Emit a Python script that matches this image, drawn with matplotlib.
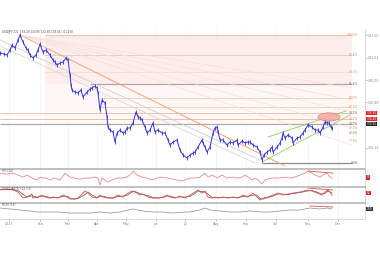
import numpy as np
import matplotlib
matplotlib.use('Agg')
import matplotlib.pyplot as plt
from matplotlib.patches import Ellipse, Rectangle

# price path (x = bar position, close price)
px_x = [0, 4, 7, 10, 12, 15, 18, 20, 23, 26,
        28, 30, 33, 36, 38, 40, 43, 46, 50, 53,
        55, 57, 60, 63, 66, 68, 70, 71, 72, 75,
        78, 81, 83, 87, 90, 92, 95, 97, 98, 100,
        102, 105, 107, 108, 110, 113, 115, 117, 120, 123,
        125, 127, 130, 133, 136, 138, 140, 142, 145, 147,
        150, 153, 155, 158, 162, 165, 168, 170, 173, 177,
        180, 183, 187, 190, 193, 195, 198, 202, 203, 205,
        207, 210, 213, 215, 217, 218, 220, 223, 227, 230,
        233, 237, 238, 242, 245, 248, 250, 253, 257, 260,
        262, 264, 267, 270, 272, 273, 277, 280, 282, 283,
        285, 288, 292, 293, 297, 300, 303, 305, 308, 312,
        315, 318, 320, 323, 325, 327, 329, 331, 332]
closes = [144.30, 144.15, 144.00, 144.75, 145.50, 145.05, 146.25, 147.00, 145.95, 145.05,
          144.75, 144.00, 143.55, 144.00, 144.75, 145.65, 144.45, 144.75, 144.00, 143.25,
          142.95, 142.50, 142.80, 142.95, 143.55, 143.25, 141.00, 139.50, 138.75, 138.45,
          138.30, 138.75, 137.70, 138.45, 138.90, 139.05, 139.35, 139.05, 138.30, 135.75,
          137.25, 136.80, 134.70, 133.20, 132.75, 132.45, 130.95, 132.30, 132.75, 132.30,
          132.45, 133.05, 133.05, 133.80, 135.45, 134.70, 134.55, 134.25, 133.20, 132.30,
          132.75, 133.80, 132.45, 132.75, 132.30, 132.30, 131.25, 130.50, 130.95, 131.25,
          129.75, 129.00, 128.55, 129.00, 129.30, 129.45, 130.20, 131.25, 130.80, 130.20,
          129.45, 130.20, 132.30, 133.05, 133.20, 132.45, 131.25, 131.25, 130.50, 130.95,
          130.80, 131.25, 130.50, 131.10, 130.80, 130.95, 130.95, 130.50, 130.20, 129.45,
          128.25, 129.00, 129.45, 129.75, 130.20, 129.45, 130.20, 130.80, 131.55, 132.30,
          131.55, 132.00, 131.55, 130.80, 131.55, 131.70, 132.30, 132.75, 133.50, 133.20,
          132.75, 132.75, 132.30, 133.20, 133.95, 133.80, 133.80, 133.20, 133.05]

# fibonacci levels
fib_prices = [147.00, 144.00, 141.45, 139.65, 137.55, 136.20, 135.30, 134.40, 133.65, 133.05, 132.30, 131.10, 127.80]
fib_labels = ['100.0%', '85.4%', '70.7%', '61.8%', '50.0%', '47.2%', '38.2%', '34.2%', '30.0%',
              '27.0%', '23.6%', '17.6%', '0.0%']

# indicator panels
rsi_x = [0, 7, 13, 18, 23, 27, 32, 37, 40, 43, 47, 50, 55, 60, 65, 70, 75, 80, 85, 90,
         95, 98, 100, 102, 105, 108, 112, 117, 122, 127, 132, 133, 137, 142, 147, 152, 157, 162, 167, 172,
         177, 182, 187, 190, 195, 200, 205, 208, 212, 217, 222, 227, 232, 237, 242, 245, 248, 252, 255, 258,
         262, 265, 268, 272, 275, 280, 285, 290, 295, 300, 305, 308, 312, 315, 320, 323, 327, 330, 332]
rsi = [69.4, 65.9, 69.4, 62.4, 55.3, 62.4, 51.8, 44.7, 55.3, 51.8,
       51.8, 44.7, 51.8, 44.7, 69.4, 55.3, 51.8, 48.2, 51.8, 51.8,
       55.3, 51.8, 27.1, 51.8, 44.7, 37.6, 44.7, 51.8, 51.8, 55.3,
       69.4, 76.5, 62.4, 55.3, 51.8, 44.7, 51.8, 55.3, 51.8, 48.2,
       44.7, 41.2, 48.2, 51.8, 51.8, 55.3, 69.4, 55.3, 62.4, 51.8,
       62.4, 51.8, 55.3, 51.8, 55.3, 62.4, 55.3, 44.7, 51.8, 44.7,
       30.6, 44.7, 48.2, 51.8, 51.8, 51.8, 55.3, 51.8, 55.3, 62.4,
       69.4, 76.5, 69.4, 62.4, 55.3, 62.4, 69.4, 55.3, 51.8]

stoch_x = [0, 7, 13, 18, 23, 27, 32, 33, 38, 42, 45, 50, 53, 58, 63, 67, 70, 75, 78, 85,
           88, 92, 97, 100, 103, 108, 113, 118, 123, 128, 132, 135, 140, 143, 148, 153, 158, 163, 167, 170,
           175, 180, 185, 190, 195, 198, 202, 205, 208, 212, 215, 218, 223, 228, 233, 238, 243, 248, 253, 257,
           260, 263, 268, 273, 278, 283, 288, 293, 300, 307, 312, 317, 322, 325, 328, 332]
stoch_k = [84.7, 92.4, 84.7, 69.3, 23.1, 30.8, 53.9, 23.1, 30.8, 46.2,
           30.8, 23.1, 30.8, 23.1, 46.2, 30.8, 15.4, 15.4, 23.1, 77.0,
           61.6, 30.8, 23.1, 46.2, 30.8, 23.1, 23.1, 46.2, 30.8, 61.6,
           77.0, 69.3, 46.2, 53.9, 30.8, 23.1, 23.1, 30.8, 46.2, 30.8,
           23.1, 38.5, 23.1, 46.2, 69.3, 84.7, 61.6, 77.0, 30.8, 23.1,
           30.8, 23.1, 30.8, 23.1, 30.8, 23.1, 46.2, 30.8, 61.6, 30.8,
           7.7, 23.1, 30.8, 46.2, 61.6, 46.2, 53.9, 61.6, 69.3, 84.7,
           77.0, 61.6, 46.2, 69.3, 84.7, 46.2]
stoch_d = [88, 88, 88, 80, 52, 30, 40, 38, 28, 38,
           38, 27, 27, 27, 35, 38, 23, 16, 19, 50,
           70, 46, 27, 35, 38, 27, 23, 35, 38, 46,
           70, 73, 58, 50, 42, 27, 23, 27, 38, 38,
           27, 31, 31, 35, 58, 77, 73, 69, 54, 27,
           27, 27, 27, 27, 27, 27, 35, 38, 46, 46,
           19, 15, 27, 38, 54, 54, 50, 58, 65, 77,
           81, 69, 54, 58, 77, 65]

mom_x = [0, 10, 20, 30, 37, 43, 50, 60, 70, 80, 90, 100, 110, 120, 133, 143, 153, 163, 173, 185,
         190, 200, 205, 210, 220, 230, 240, 250, 260, 270, 280, 290, 300, 310, 320, 327, 332]
mom = [100.8, 100.4, 100.0, 99.6, 99.2, 99.2, 99.2, 99.2, 98.8, 98.8,
       98.8, 99.2, 98.8, 99.2, 100.4, 99.6, 99.2, 99.2, 98.8, 99.2,
       99.2, 100.0, 100.8, 100.0, 99.6, 99.2, 99.2, 99.6, 99.2, 99.2,
       99.6, 100.0, 100.0, 100.8, 100.4, 100.8, 100.4]

month_pos = [9, 40, 68, 97, 126, 156, 185, 216, 246, 276, 308, 338]
month_labels = ['2023', 'Feb', 'Mar', 'Apr', 'May', 'Jun', 'Jul', 'Aug', 'Sep', 'Oct', 'Nov', 'Dec']

FS = 2.3
W, H = 380, 254


def rect(top, bottom, right=365):
    return [0, (H - bottom) / H, right / W, (bottom - top) / H]


fig = plt.figure(figsize=(3.8, 2.54), dpi=100)
ax = fig.add_axes(rect(29, 168))
a1 = fig.add_axes(rect(169, 187), sharex=ax)
a2 = fig.add_axes(rect(187, 203), sharex=ax)
a3 = fig.add_axes(rect(203, 219), sharex=ax)

for a in (ax, a1, a2, a3):
    for s in a.spines.values():
        s.set_color('#d4d4d4')
        s.set_linewidth(0.6)
    a.spines['left'].set_visible(False)
    if a is not ax:
        a.spines['top'].set_color('#bdbdbd')
        a.spines['top'].set_linewidth(1.3)
    a.yaxis.tick_right()
    a.tick_params(labelsize=FS, colors='#888888', length=1.2, width=0.4, pad=1)
    for xp in month_pos:
        a.axvline(xp, color='#efefef', lw=0.4, zorder=0)
    if a is not a3:
        a.tick_params(labelbottom=False, bottom=False)
ax.spines['top'].set_visible(False)

ax.set_xlim(0, 365)
ax.set_ylim(127.05, 147.9)

# shaded fib zone
ax.add_patch(Rectangle((45, 139.65), 307, 7.35, color='#fdeeed', lw=0, zorder=0))
ax.add_patch(Rectangle((45, 133.65), 307, 6.0, color='#fef7f5', lw=0, zorder=0))

fib_colors = ['#f2b090', '#dfcaca', '#f8dccc', '#a8a8a8', '#f5ccb4', '#f5ccb4', '#e8bcac',
              '#f0b498', '#ababab', '#f5d0c0', '#f5d0c0', '#f8dcd0', '#8a8a8a']
fib_start = [45, 45, 45, 90, 100, 100, 0, 0, 0, 300, 300, 300, 262]
label_colors = ['#f08a50', '#999999', '#f08a50', '#777777', '#f08a50', '#f08a50', '#666666',
                '#f08a50', '#555555', '#f08a50', '#777777', '#f08a50', '#555555']
for p, lab, c, xs, lc in zip(fib_prices, fib_labels, fib_colors, fib_start, label_colors):
    lw = 0.9 if p in (139.65, 127.8, 133.65) else 0.6
    if p not in (133.05, 132.3, 131.1):
        ax.hlines(p, xs, 352, color=c, lw=lw, zorder=1)
    ax.text(358, p, lab, fontsize=FS - 0.2, color=lc, ha='right', va='center')

# trend / fan lines
ax.plot([20, 285], [147.0, 127.35], color='#f0a47a', lw=0.7, zorder=1)
ax.plot([0, 260], [146.25, 128.25], color='#cfcfcf', lw=0.6, zorder=1)
ax.plot([0, 255], [145.35, 127.8], color='#d8d8d8', lw=0.6, zorder=1)
for end in [139.05, 137.25, 135.45, 133.05, 130.5]:
    ax.plot([20, 352], [147.0, end], color='#f8dcd4', lw=0.45, zorder=1)
ax.plot([268, 346], [131.7, 135.6], color='#8fcf6a', lw=0.6, zorder=3)
ax.plot([262, 350], [127.95, 135.0], color='#8fcf6a', lw=0.6, zorder=3)
ax.add_patch(Ellipse((329, 134.7), 22, 1.25, facecolor='#f2a5a0', edgecolor='#e07070',
                     lw=0.5, alpha=0.8, zorder=4))

# price bars
c = np.array(closes)
ax.vlines(px_x, c - 0.3, c + 0.3, color='#3434e0', lw=0.6, zorder=5)
ax.plot(px_x, closes, color='#3434e0', lw=0.7, zorder=5)

ax.set_yticks([147.0, 143.62, 140.25, 136.88, 130.12])
ax.yaxis.set_major_formatter(matplotlib.ticker.FormatStrFormatter('%.2f'))
ax.text(2, 147.5, 'USD/JPY, D1  133.20 133.95 132.85 133.05 (-0.11%)', fontsize=FS - 0.3,
        color='#444444', va='center')

ytr = ax.get_yaxis_transform()
for p, fc in [(135.3, '#e02020'), (134.4, '#e02020'), (133.65, '#222222')]:
    ax.text(1.004, p, '%.2f' % p, transform=ytr, fontsize=FS - 0.2, color='white', va='center',
            bbox=dict(boxstyle='square,pad=0.15', fc=fc, ec='none'), clip_on=False)

# RSI
a1.plot(rsi_x, rsi, color='#e88a8a', lw=0.6)
a1.plot([308, 333], [76.5, 69.4], color='#e05050', lw=0.6)
a1.set_ylim(20, 84)
a1.set_yticks([])
a1.text(2, 78, 'RSI (14)', fontsize=FS - 0.3, color='#555555', va='center')

# Stochastic
a2.plot(stoch_x, stoch_d, color='#555555', lw=0.5)
a2.plot(stoch_x, stoch_k, color='#e04848', lw=0.6)
a2.plot([308, 333], [100, 84.7], color='#e05050', lw=0.6)
a2.set_ylim(-15, 108)
a2.set_yticks([])
a2.text(2, 96, 'STOCHASTIC (14,3,3)', fontsize=FS - 0.3, color='#555555', va='center')

# Momentum
a3.plot(mom_x, mom, color='#8a8a8a', lw=0.5)
a3.plot([310, 333], [101.6, 101.2], color='#e05050', lw=0.6)
a3.set_ylim(96.4, 102.8)
a3.set_yticks([])
a3.text(2, 101.9, 'MOM (14)', fontsize=FS - 0.3, color='#555555', va='center')

for a, v, fc in [(a1, 55.3, '#e02020'), (a2, 61.6, '#e02020'), (a3, 100.4, '#333333')]:
    tr = a.get_yaxis_transform()
    a.text(1.004, v, '%.0f' % v, transform=tr, fontsize=FS - 0.2, color='white', va='center',
           bbox=dict(boxstyle='square,pad=0.15', fc=fc, ec='none'), clip_on=False)

a3.set_xticks(month_pos)
a3.set_xticklabels(month_labels)
a3.tick_params(axis='x', labelsize=FS, colors='#888888', length=1.2, pad=1)

fig.savefig('out.png', dpi=100)
